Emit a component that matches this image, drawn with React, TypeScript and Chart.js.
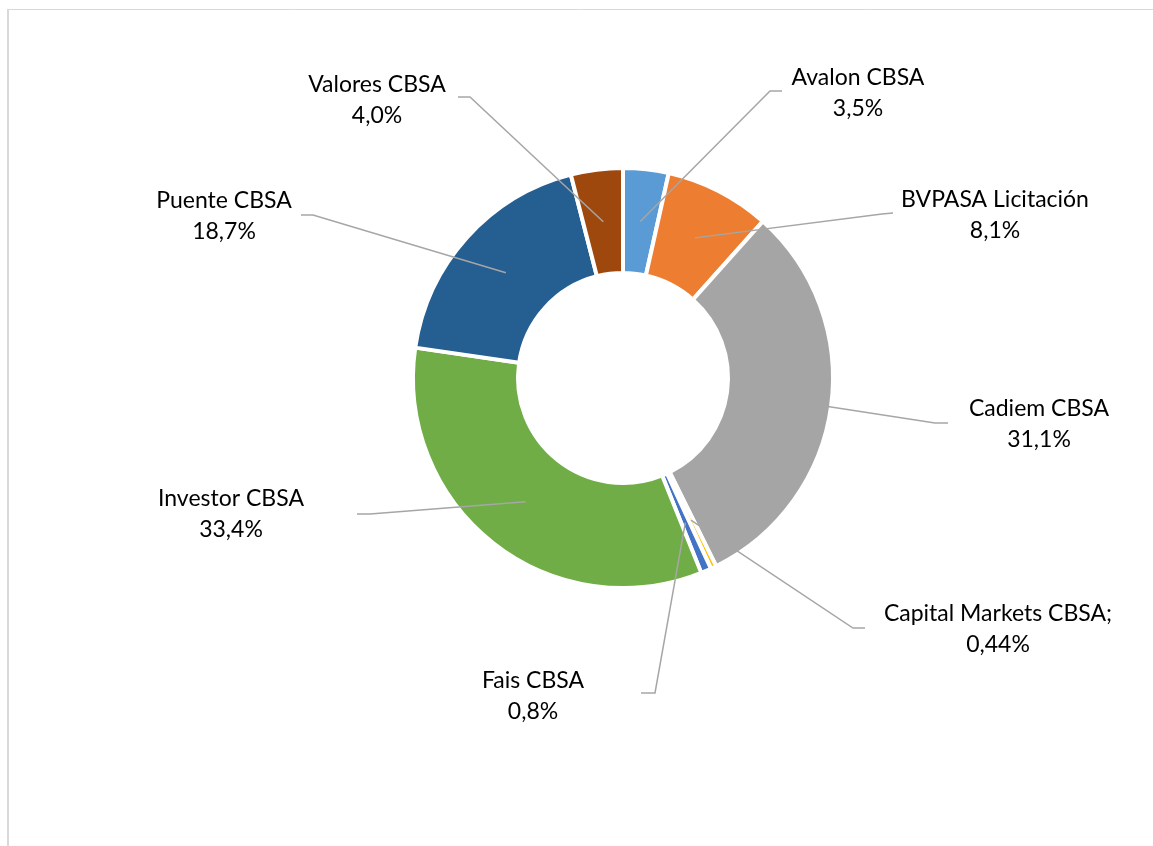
import React, { useEffect, useRef } from "react";
import { Chart, registerables } from "chart.js";
Chart.register(...registerables);

const categories = [
  "Avalon CBSA",
  "BVPASA Licitación",
  "Cadiem CBSA",
  "Capital Markets CBSA;",
  "Fais CBSA",
  "Investor CBSA",
  "Puente CBSA",
  "Valores CBSA",
];
const values = [3.5, 8.1, 31.1, 0.44, 0.8, 33.4, 18.7, 4.0];
const decimals = [1, 1, 1, 2, 1, 1, 1, 1];
const colors = ["#5B9BD5", "#ED7D31", "#A5A5A5", "#FFC000", "#4472C4", "#70AD47", "#255E91", "#9E480E"];

// label placement (text centre x, first-line middle y, leader elbow, leader end)
const labelLayout = [
  { tx: 858, ty: 78, ex: 770, ey: 91, lx: 782, ly: 91 },
  { tx: 995, ty: 200, ex: 882, ey: 214, lx: 893, ly: 213 },
  { tx: 1039, ty: 409, ex: 935, ey: 423, lx: 948, ly: 423 },
  { tx: 998, ty: 614, ex: 853, ey: 628, lx: 865, ly: 628 },
  { tx: 533, ty: 681, ex: 655, ey: 693, lx: 641, ly: 693 },
  { tx: 231, ty: 499, ex: 370, ey: 514, lx: 357, ly: 514 },
  { tx: 224, ty: 201, ex: 313, ey: 215, lx: 301, ly: 215 },
  { tx: 377, ty: 85, ex: 470, ey: 97, lx: 458, ly: 97 },
];

const FONT = "23px Lato";
const LINE_GAP = 31;

const frame = {
  id: "frame",
  beforeDraw(chart: any) {
    const ctx = chart.ctx;
    ctx.save();
    ctx.fillStyle = "#ffffff";
    ctx.fillRect(0, 0, chart.width, chart.height);
    ctx.strokeStyle = "#D9D9D9";
    ctx.lineWidth = 1;
    ctx.beginPath();
    ctx.moveTo(8, 9.5);
    ctx.lineTo(chart.width, 9.5);
    ctx.stroke();
    ctx.lineWidth = 2;
    ctx.beginPath();
    ctx.moveTo(8, 9);
    ctx.lineTo(8, chart.height);
    ctx.stroke();
    ctx.restore();
  },
};

const leaderLabels = {
  id: "leaderLabels",
  afterDatasetsDraw(chart: any) {
    const ctx = chart.ctx;
    const meta = chart.getDatasetMeta(0);
    ctx.save();
    meta.data.forEach((arc: any, i: number) => {
      const p = arc.getProps(["x", "y", "startAngle", "endAngle", "innerRadius", "outerRadius"], true);
      const mid = (p.startAngle + p.endAngle) / 2;
      const r = (p.innerRadius + p.outerRadius) / 2;
      const sx = p.x + Math.cos(mid) * r;
      const sy = p.y + Math.sin(mid) * r;
      const L = labelLayout[i];
      ctx.strokeStyle = "#A6A6A6";
      ctx.lineWidth = 1.5;
      ctx.beginPath();
      ctx.moveTo(sx, sy);
      ctx.lineTo(L.ex, L.ey);
      ctx.lineTo(L.lx, L.ly);
      ctx.stroke();
    });
    ctx.fillStyle = "#000000";
    ctx.font = FONT;
    ctx.textAlign = "center";
    ctx.textBaseline = "middle";
    meta.data.forEach((_: any, i: number) => {
      const L = labelLayout[i];
      const pct = values[i].toFixed(decimals[i]).replace(".", ",") + "%";
      ctx.fillText(categories[i], L.tx, L.ty);
      ctx.fillText(pct, L.tx, L.ty + LINE_GAP);
    });
    ctx.restore();
  },
};

export default function App() {
  const ref = useRef<HTMLCanvasElement | null>(null);
  useEffect(() => {
    if (!ref.current) return;
    const chart = new Chart(ref.current, {
      type: "doughnut",
      data: {
        labels: categories,
        datasets: [
          {
            data: values,
            backgroundColor: colors,
            borderColor: "#ffffff",
            borderWidth: 4,
          },
        ],
      },
      options: {
        animation: false,
        responsive: true,
        maintainAspectRatio: false,
        cutout: "50%",
        layout: { padding: { left: 411, right: 318, top: 166, bottom: 256 } },
        plugins: { legend: { display: false }, tooltip: { enabled: false } },
      },
      plugins: [frame, leaderLabels],
    });
    return () => chart.destroy();
  }, []);
  return (
    <div style={{ position: "fixed", left: 0, top: 0, width: 1153, height: 846, background: "#fff" }}>
      <canvas ref={ref} />
    </div>
  );
}
